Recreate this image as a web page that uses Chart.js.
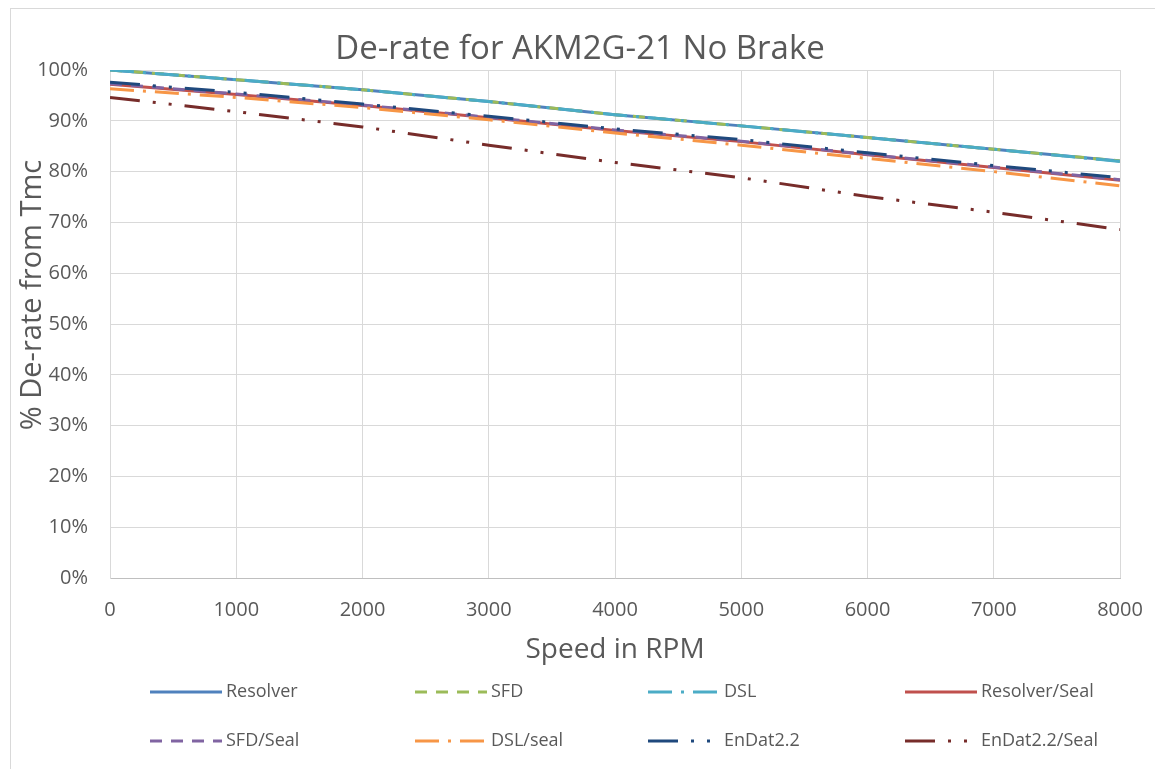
<!DOCTYPE html>
<html>
<head>
<meta charset="utf-8">
<script src="https://cdn.jsdelivr.net/npm/chart.js@4"></script>
<style>
  body { margin: 0; background: #fff; }
  #frame { position: absolute; left: 10px; top: 8px; width: 1200px; height: 800px; border: 1px solid #d9d9d9; }
  #derate { position: absolute; left: 0; top: 0; }
</style>
</head>
<body>
<div id="frame"></div>
<canvas id="derate" width="1155" height="769"></canvas>
<script>
// speed in rpm
const speeds = [0, 1000, 2000, 3000, 4000, 5000, 6000, 7000, 8000];

// % de-rate
const resolver = [100, 98.1, 96.1, 93.8, 91.2, 89.0, 86.7, 84.4, 82.1];
const sfd = [100, 98.1, 96.1, 93.8, 91.2, 89.0, 86.7, 84.4, 82.1];
const dsl = [100, 98.1, 96.1, 93.8, 91.2, 89.0, 86.7, 84.4, 82.0];
const resolverSeal = [97.2, 95.2, 93.0, 90.6, 88.1, 85.9, 83.3, 80.8, 78.3];
const sfdSeal = [97.3, 95.3, 93.1, 90.7, 88.2, 86.0, 83.4, 80.9, 78.4];
const dslSeal = [96.3, 94.6, 92.6, 90.2, 87.6, 85.2, 82.6, 80.0, 77.2];
const endat = [97.6, 95.6, 93.3, 90.9, 88.4, 86.3, 83.7, 81.2, 78.8];
const endatSeal = [94.6, 91.8, 88.8, 85.2, 81.8, 78.8, 75.1, 72.0, 68.6];

const seriesNames = ['Resolver', 'SFD', 'DSL', 'Resolver/Seal', 'SFD/Seal', 'DSL/seal', 'EnDat2.2', 'EnDat2.2/Seal'];
const seriesValues = [resolver, sfd, dsl, resolverSeal, sfdSeal, dslSeal, endat, endatSeal];
const seriesColors = ['#4F81BD', '#9BBB59', '#4BACC6', '#C0504D', '#8064A2', '#F79646', '#1F497D', '#772C2A'];
const seriesDash = [[], [12, 9], [24, 9, 3, 9], [], [12, 9], [24, 9, 3, 9], [30, 13, 3, 13, 3, 13], [30, 13, 3, 13, 3, 13]];

const xTicks = [0, 1000, 2000, 3000, 4000, 5000, 6000, 7000, 8000];
const yTicks = [0, 10, 20, 30, 40, 50, 60, 70, 80, 90, 100];

const chartTitle = 'De-rate for AKM2G-21 No Brake';
const xTitle = 'Speed in RPM';
const yTitle = '% De-rate from Tmc';

const FONT = "'Open Sans', sans-serif";
const GREY = '#595959';

const datasets = seriesNames.map((name, i) => ({
    label: name,
    data: speeds.map((s, j) => ({ x: s, y: seriesValues[i][j] })),
    borderColor: seriesColors[i],
    backgroundColor: seriesColors[i],
    borderDash: seriesDash[i],
    borderWidth: 3,
    pointRadius: 0,
    fill: false,
    order: seriesNames.length - i // later series on top, like excel
}));

// title, legend in 2 rows x 4 columns, rotated y title
const legendX = [150, 415, 648, 905];
const legendY = [692, 741];
const extraText = {
    id: 'extraText',
    afterDraw(chart) {
        const ctx = chart.ctx;
        ctx.save();
        ctx.fillStyle = GREY;
        ctx.textBaseline = 'middle';
        ctx.textAlign = 'center';
        ctx.font = '33px ' + FONT;
        ctx.fillText(chartTitle, 580, 50);

        chart.data.datasets.forEach((ds, i) => {
            const x = legendX[i % 4];
            const y = legendY[Math.floor(i / 4)];
            ctx.strokeStyle = ds.borderColor;
            ctx.lineWidth = 3;
            ctx.setLineDash(ds.borderDash);
            ctx.beginPath();
            ctx.moveTo(x, y);
            ctx.lineTo(x + 72, y);
            ctx.stroke();
            ctx.setLineDash([]);
            ctx.font = '18px ' + FONT;
            ctx.textAlign = 'left';
            ctx.fillText(ds.label, x + 76, y);
        });

        ctx.translate(33, 295);
        ctx.rotate(-Math.PI / 2);
        ctx.font = '29px ' + FONT;
        ctx.textAlign = 'center';
        ctx.fillText(yTitle, 0, 0);
        ctx.restore();
    }
};

new Chart(document.getElementById('derate'), {
    type: 'line',
    data: { datasets: datasets },
    plugins: [extraText],
    options: {
        responsive: false,
        animation: false,
        layout: { padding: { left: 0, right: 35, top: 70, bottom: 91 } },
        plugins: {
            legend: { display: false },
            tooltip: { enabled: false },
            title: { display: false }
        },
        scales: {
            x: {
                type: 'linear',
                min: 0,
                max: 8000,
                afterFit: s => { s.height = 100; s.paddingLeft = 0; s.paddingRight = 0; },
                afterBuildTicks: s => { s.ticks = xTicks.map(v => ({ value: v })); },
                grid: { color: '#d9d9d9', drawTicks: false },
                border: { color: '#bfbfbf' },
                ticks: {
                    color: GREY,
                    padding: 20,
                    maxRotation: 0,
                    font: { family: FONT, size: 20 },
                    callback: v => String(v)
                },
                title: {
                    display: true,
                    text: xTitle,
                    color: GREY,
                    font: { family: FONT, size: 28 },
                    padding: { top: 0, bottom: 11 }
                }
            },
            y: {
                min: 0,
                max: 100,
                afterFit: s => { s.width = 110; s.paddingTop = 0; s.paddingBottom = 0; },
                afterBuildTicks: s => { s.ticks = yTicks.map(v => ({ value: v })); },
                grid: { color: '#d9d9d9', drawTicks: false },
                border: { color: '#d9d9d9' },
                ticks: {
                    color: GREY,
                    padding: 22,
                    font: { family: FONT, size: 20 },
                    callback: v => v + '%'
                }
            }
        }
    }
});
</script>
</body>
</html>
